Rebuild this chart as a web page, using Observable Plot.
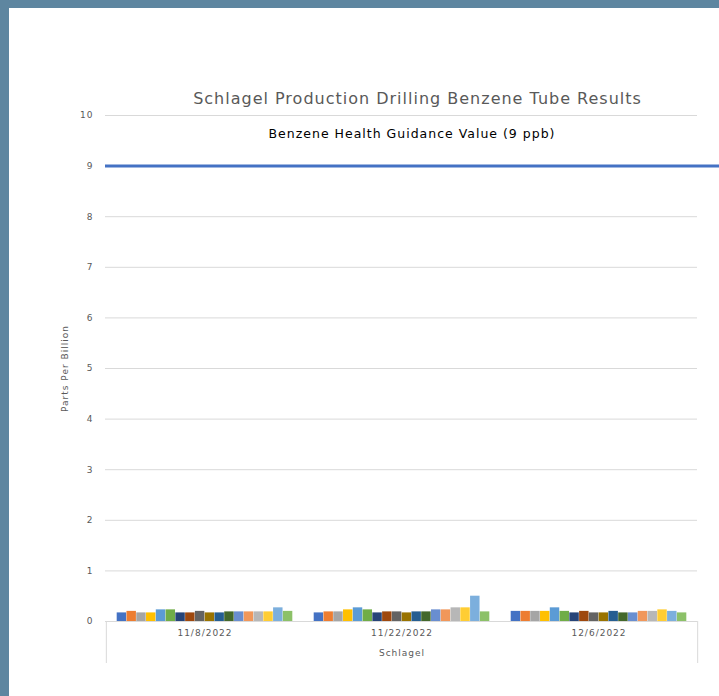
<!DOCTYPE html>
<html><head><meta charset="utf-8">
<script src="https://cdn.jsdelivr.net/npm/d3@7"></script>
<script src="https://cdn.jsdelivr.net/npm/@observablehq/plot@0.6"></script>
<style>
html,body{margin:0;padding:0;background:#5e86a0;width:719px;height:696px;overflow:hidden}
#panel{position:absolute;left:9px;top:8px;width:710px;height:688px;background:#fff}
</style></head><body><div id="panel"></div>
<script>
const dates = ["11/8/2022", "11/22/2022", "12/6/2022"];
const tubes = ["Tube 1","Tube 2","Tube 3","Tube 4","Tube 5","Tube 6","Tube 7","Tube 8","Tube 9",
               "Tube 10","Tube 11","Tube 12","Tube 13","Tube 14","Tube 15","Tube 16","Tube 17","Tube 18"];
const colors = ["#4472C4","#ED7D31","#A5A5A5","#FFC000","#5B9BD5","#70AD47","#264478","#9E480E","#636363",
                "#997300","#255E91","#43682B","#698ED0","#F1975A","#B7B7B7","#FFCD33","#7CAFDD","#8CC168"];
const nov8  = [0.17,0.20,0.17,0.17,0.23,0.23,0.17,0.17,0.20,0.17,0.17,0.19,0.19,0.19,0.19,0.19,0.27,0.20];
const nov22 = [0.17,0.19,0.19,0.23,0.27,0.23,0.17,0.19,0.19,0.17,0.19,0.19,0.23,0.23,0.27,0.27,0.50,0.19];
const dec6  = [0.20,0.20,0.20,0.20,0.27,0.20,0.17,0.20,0.17,0.17,0.20,0.17,0.17,0.20,0.20,0.23,0.20,0.17];
const guidance = 9;
const yTicks = [0,1,2,3,4,5,6,7,8,9,10];
const title = "Schlagel Production Drilling Benzene Tube Results";
const guidanceLabel = "Benzene Health Guidance Value (9 ppb)";
const yLabel = "Parts Per Billion";
const xLabel = "Schlagel";

const series = [nov8, nov22, dec6];
const rows = [];
dates.forEach((d, di) => series[di].forEach((v, i) => rows.push({date: d, tube: tubes[i], value: v, idx: i})));

const W = 710, H = 688, frameL = 96, frameR = 688, frameT = 107, frameB = 613;
const step = (frameR - frameL) / dates.length;
const pad = 10.7;
const bw = (step - 2 * pad) / tubes.length;
const pxPerUnit = (frameB - frameT) / 10;
const txt = "#595959";

const chart = Plot.plot({
  width: W, height: H,
  marginLeft: frameL, marginRight: 0, marginTop: frameT, marginBottom: H - frameB,
  style: {fontFamily: "'DejaVu Sans', sans-serif", background: "transparent", overflow: "visible", letterSpacing: "1px"},
  x: {domain: dates, range: [frameL, frameR], padding: 0, axis: null},
  y: {domain: [0, 10], axis: null},
  color: {domain: tubes, range: colors},
  marks: [
    Plot.ruleY(yTicks, {stroke: "#d9d9d9", insetRight: W - frameR}),
    ...tubes.map((t, i) => Plot.barY(rows.filter(r => r.idx === i), {
      x: "date", y: "value", fill: "tube",
      insetLeft: pad + i * bw, insetRight: pad + (tubes.length - 1 - i) * bw
    })),
    Plot.ruleY([guidance], {stroke: "#4472C4", strokeWidth: 3}),
    Plot.ruleX([dates[0]], {x: d => d, dx: -step / 2, y1: 0, y2: -42 / pxPerUnit, stroke: "#d9d9d9"}),
    Plot.ruleX([dates[dates.length - 1]], {x: d => d, dx: step / 2, y1: 0, y2: -42 / pxPerUnit, stroke: "#d9d9d9"}),
    Plot.text(yTicks, {y: d => d, frameAnchor: "left", dx: -12, textAnchor: "end", fontSize: 9, fill: txt}),
    Plot.text(dates, {x: d => d, frameAnchor: "bottom", lineAnchor: "middle", dy: 12, fontSize: 9, fill: txt}),
    Plot.text([xLabel], {x: [dates[1]], frameAnchor: "bottom", lineAnchor: "middle", dy: 32, fontSize: 9, fill: txt}),
    Plot.text([yLabel], {y: [5], frameAnchor: "left", textAnchor: "middle", lineAnchor: "middle", dx: -40, rotate: -90, fontSize: 9, fill: txt}),
    Plot.text([title], {frameAnchor: "top", lineAnchor: "middle", dy: -17, dx: 5, fontSize: 16, fill: txt}),
    Plot.text([guidanceLabel], {x: [dates[1]], frameAnchor: "top", lineAnchor: "middle", dy: 18, dx: 10, fontSize: 12.5, fill: "#000"})
  ]
});
document.getElementById("panel").appendChild(chart);
</script></body></html>
